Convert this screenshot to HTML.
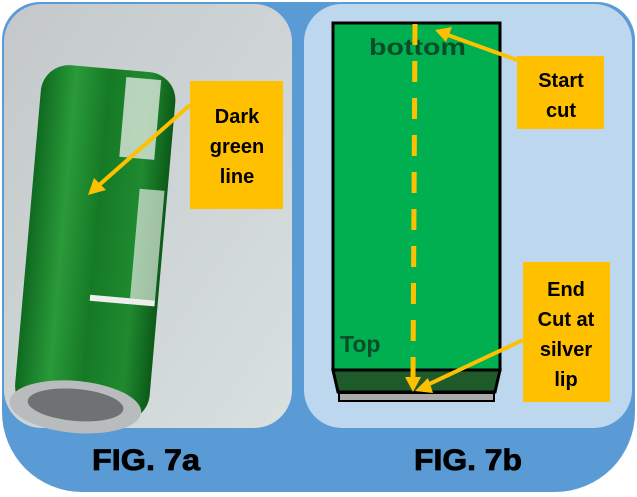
<!DOCTYPE html>
<html><head><style>
body{margin:0;width:637px;height:492px;overflow:hidden;background:#fff;}
</style></head><body>
<svg width="637" height="492" viewBox="0 0 637 492" xmlns="http://www.w3.org/2000/svg">
<defs>
<linearGradient id="can" x1="0" y1="0" x2="1" y2="0">
<stop offset="0" stop-color="#0f6a1f"/><stop offset="0.25" stop-color="#2a9a3a"/><stop offset="0.5" stop-color="#157a25"/><stop offset="0.8" stop-color="#1f8a30"/><stop offset="1" stop-color="#0c5a18"/>
</linearGradient>
<linearGradient id="bg" x1="0" y1="0" x2="1" y2="1">
<stop offset="0" stop-color="#c4c8ca"/><stop offset="1" stop-color="#d8e0e0"/>
</linearGradient>
</defs>
<path d="M40 2 H597 A38 38 0 0 1 635 40 V412 A80 80 0 0 1 555 492 H82 A80 80 0 0 1 2 412 V40 A38 38 0 0 1 40 2 Z" fill="#5b9bd5"/>
<rect x="4" y="4" width="288" height="424" rx="38" fill="url(#bg)"/>
<rect x="304" y="4" width="328" height="424" rx="38" fill="#bdd7ee"/>
<!-- can -->
<g transform="rotate(5 95 240)">
<rect x="28" y="68" width="135" height="350" rx="28" fill="url(#can)"/>
<rect x="112" y="75" width="35" height="80" fill="#dfe8df" opacity="0.8"/>
<rect x="135" y="185" width="25" height="110" fill="#dfe8df" opacity="0.7"/>
<rect x="95" y="295" width="65" height="6" fill="#eee"/>
<ellipse cx="90" cy="408" rx="66" ry="26" fill="#b8bcbc"/>
<ellipse cx="90" cy="406" rx="48" ry="16" fill="#6e7272"/>
</g>
<rect x="190" y="81" width="93" height="128" fill="#ffc000"/>
<text font-family="Liberation Sans, sans-serif" font-weight="bold" font-size="20" text-anchor="middle">
<tspan x="237" y="123">Dark</tspan><tspan x="237" y="153">green</tspan><tspan x="237" y="183">line</tspan></text>
<line x1="190" y1="105" x2="98" y2="186" stroke="#ffc000" stroke-width="4"/>
<polygon points="88,195 94,178 106,190" fill="#ffc000"/>
<!-- right -->
<rect x="333" y="23" width="167" height="347" fill="#00b050" stroke="#000" stroke-width="3"/>
<polygon points="333,370 500,370 495,392 338,392" fill="#1e5a2a" stroke="#000" stroke-width="3"/>
<rect x="339" y="393" width="155" height="8" fill="#aaa" stroke="#000" stroke-width="2"/>
<text x="369" y="55" font-family="Liberation Sans, sans-serif" font-weight="900" font-size="23" fill="#0a4d28" textLength="97" lengthAdjust="spacingAndGlyphs">bottom</text>
<text x="340" y="352" font-family="Liberation Sans, sans-serif" font-weight="900" font-size="23" fill="#0a4d28">Top</text>
<line x1="415" y1="24" x2="413" y2="378" stroke="#ffc000" stroke-width="5" stroke-dasharray="21,16"/>
<polygon points="405,377 421,377 413,392" fill="#ffc000"/>
<rect x="517" y="56" width="87" height="73" fill="#ffc000"/>
<text font-family="Liberation Sans, sans-serif" font-weight="bold" font-size="20" text-anchor="middle"><tspan x="561" y="87">Start</tspan><tspan x="561" y="117">cut</tspan></text>
<line x1="517" y1="60" x2="445" y2="34" stroke="#ffc000" stroke-width="4"/>
<polygon points="435,30 452,27 446,42" fill="#ffc000"/>
<rect x="523" y="262" width="87" height="140" fill="#ffc000"/>
<text font-family="Liberation Sans, sans-serif" font-weight="bold" font-size="20" text-anchor="middle"><tspan x="566" y="296">End</tspan><tspan x="566" y="326">Cut at</tspan><tspan x="566" y="356">silver</tspan><tspan x="566" y="386">lip</tspan></text>
<line x1="523" y1="340" x2="425" y2="386" stroke="#ffc000" stroke-width="4"/>
<polygon points="415,391 428,378 433,393" fill="#ffc000"/>
<text x="146" y="470" font-family="Liberation Sans, sans-serif" font-weight="bold" font-size="30" text-anchor="middle" textLength="108" lengthAdjust="spacingAndGlyphs" stroke="#000" stroke-width="0.8">FIG. 7a</text>
<text x="468" y="470" font-family="Liberation Sans, sans-serif" font-weight="bold" font-size="30" text-anchor="middle" textLength="108" lengthAdjust="spacingAndGlyphs" stroke="#000" stroke-width="0.8">FIG. 7b</text>
</svg>
</body></html>
